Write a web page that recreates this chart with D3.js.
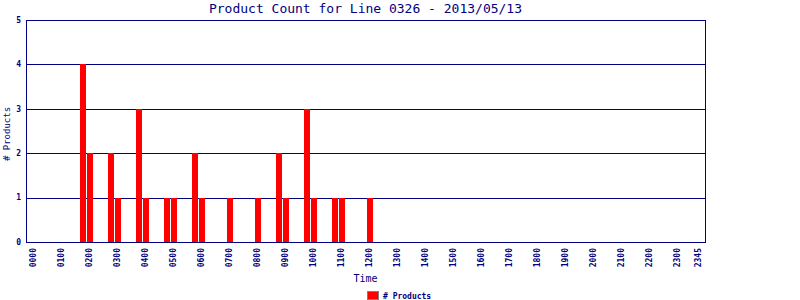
<!DOCTYPE html>
<html>
<head>
<meta charset="utf-8">
<script src="https://cdn.jsdelivr.net/npm/d3@7"></script>
<style>
  body { margin: 0; background: #fff; }
  text { font-family: "DejaVu Sans Mono", monospace; fill: #000080; }
</style>
</head>
<body>
<div id="chart"></div>
<script>
// 15 minute slots, 0000 .. 2345
var slots = [];
for (var h = 0; h < 24; h++) {
    ["00", "15", "30", "45"].forEach(function(m) {
        slots.push((h < 10 ? "0" : "") + h + m);
    });
}

var tickLabels = ["0000","0100","0200","0300","0400","0500","0600","0700","0800","0900",
                  "1000","1100","1200","1300","1400","1500","1600","1700","1800","1900",
                  "2000","2100","2200","2300","2345"];

var barTimes  = ["0145","0200","0245","0300","0345","0400","0445","0500","0545","0600",
                 "0700","0800","0845","0900","0945","1000","1045","1100","1200"];
var barCounts = [4, 2, 2, 1, 3, 1, 1, 1, 2, 1,
                 1, 1, 2, 1, 3, 1, 1, 1, 1];

var yTicks = [0, 1, 2, 3, 4, 5];

var navy = "#000080";
var width = 800, height = 300;
var plot = {left: 26, right: 705, top: 20, bottom: 242};

var svg = d3.select("#chart").append("svg")
    .attr("width", width)
    .attr("height", height);

//
// Scales
//
var x = d3.scalePoint().domain(slots).range([plot.left, plot.right]).padding(1);
var y = d3.scaleLinear().domain([0, 5]).range([plot.bottom, plot.top]);

// gridlines
svg.append("g").selectAll("line")
    .data(yTicks.filter(function(d) { return d > 0 && d < 5; }))
    .enter().append("line")
    .attr("x1", plot.left).attr("x2", plot.right)
    .attr("y1", function(d) { return Math.round(y(d)) + 0.5; })
    .attr("y2", function(d) { return Math.round(y(d)) + 0.5; })
    .attr("stroke", navy)
    .attr("stroke-width", 1);

// bars
svg.append("g").selectAll("rect")
    .data(barTimes)
    .enter().append("rect")
    .attr("x", function(d) { return x(d) - 2; })
    .attr("width", 6)
    .attr("y", function(d, i) { return Math.round(y(barCounts[i])); })
    .attr("height", function(d, i) { return plot.bottom - Math.round(y(barCounts[i])); })
    .attr("fill", "#ff0000")
    .attr("shape-rendering", "crispEdges");

// plot frame
svg.append("rect")
    .attr("x", plot.left + 0.5)
    .attr("y", plot.top + 0.5)
    .attr("width", plot.right - plot.left)
    .attr("height", plot.bottom - plot.top)
    .attr("fill", "none")
    .attr("stroke", navy)
    .attr("stroke-width", 1);

// y tick labels
svg.append("g").selectAll("text")
    .data(yTicks)
    .enter().append("text")
    .attr("x", plot.left - 5)
    .attr("y", function(d) { return y(d); })
    .attr("dy", "0.35em")
    .attr("text-anchor", "end")
    .style("font-size", "8px")
    .style("font-weight", "bold")
    .text(function(d) { return d; });

// x tick labels
svg.append("g").selectAll("text")
    .data(tickLabels)
    .enter().append("text")
    .attr("transform", function(d) { return "translate(" + x(d) + "," + (plot.bottom + 6) + ") rotate(-90)"; })
    .attr("dy", "0.35em")
    .attr("text-anchor", "end")
    .style("font-size", "8px")
    .style("font-weight", "bold")
    .text(function(d) { return d; });

// titles
svg.append("text")
    .attr("x", (plot.left + plot.right) / 2)
    .attr("y", 13)
    .attr("text-anchor", "middle")
    .style("font-size", "13px")
    .text("Product Count for Line 0326 - 2013/05/13");

svg.append("text")
    .attr("x", (plot.left + plot.right) / 2)
    .attr("y", 282)
    .attr("text-anchor", "middle")
    .style("font-size", "10px")
    .text("Time");

svg.append("text")
    .attr("transform", "translate(10," + ((plot.top + plot.bottom) / 2 + 3) + ") rotate(-90)")
    .attr("text-anchor", "middle")
    .style("font-size", "9px")
    .text("# Products");

// Legend
svg.append("rect")
    .attr("x", 367.5)
    .attr("y", 291.5)
    .attr("width", 11)
    .attr("height", 8)
    .attr("fill", "#ff0000")
    .attr("stroke", "#808080");

svg.append("text")
    .attr("x", 383)
    .attr("y", 298.5)
    .style("font-size", "8px")
    .style("font-weight", "bold")
    .text("# Products");
</script>
</body>
</html>
